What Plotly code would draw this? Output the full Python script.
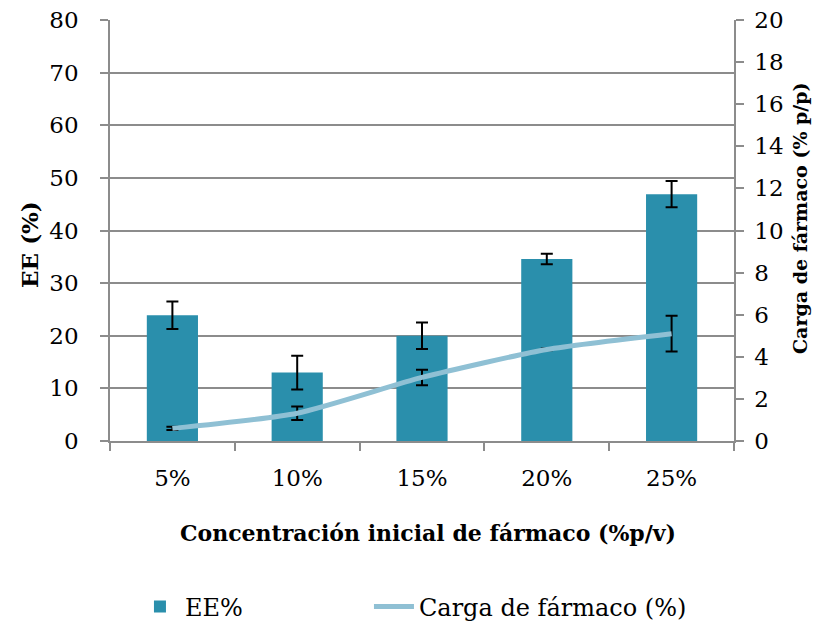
import plotly.graph_objects as go

# datos
concentracion = ['5%', '10%', '15%', '20%', '25%']
ee = [23.9, 13.0, 20.0, 34.6, 46.9]
ee_err = [2.6, 3.2, 2.5, 1.0, 2.5]
carga = [0.60, 1.32, 3.02, 4.35, 5.10]
carga_err = [0.08, 0.32, 0.37, 0.04, 0.85]

fuente = 'DejaVu Serif'
gris = '#8c8c8c'

fig = go.Figure()

fig.add_trace(go.Bar(
    x=concentracion, y=ee, name='EE%',
    marker=dict(color='#2a8fac', line=dict(width=0)),
    width=0.41,
    error_y=dict(type='data', array=ee_err, color='black', thickness=2, width=6),
    legend='legend', showlegend=True,
))

fig.add_trace(go.Scatter(
    x=concentracion, y=carga, name='Carga de fármaco (%)', yaxis='y2',
    mode='lines', line=dict(color='#8fc0d4', width=5, shape='spline', smoothing=0.6),
    error_y=dict(type='data', array=carga_err, color='black', thickness=2, width=6),
    legend='legend2', showlegend=True,
))

leyenda = dict(orientation='h', xanchor='left', yref='container', y=16/623, yanchor='middle',
               font=dict(family=fuente, size=24), itemwidth=40, bgcolor='rgba(0,0,0,0)')

eje = dict(automargin=False, showline=True, linecolor=gris, linewidth=1.5,
           ticks='outside', ticklen=8, tickcolor=gris, tickwidth=1.5,
           tickfont=dict(family=fuente, size=23), zeroline=False)

fig.update_layout(
    width=835, height=623,
    margin=dict(l=110, r=101, t=20, b=182),
    plot_bgcolor='white', paper_bgcolor='white',
    font=dict(family=fuente, size=22, color='black'),
    bargap=0.59,
    showlegend=True,
    xaxis=dict(eje, tickson='boundaries', ticklabelstandoff=16),
    yaxis=dict(eje, range=[0, 80], dtick=10, showgrid=True, gridcolor=gris, gridwidth=1.5,
               ticklabelstandoff=17),
    yaxis2=dict(eje, range=[0, 20], dtick=2, overlaying='y', side='right', showgrid=False,
                ticklabelstandoff=6),
    legend=dict(leyenda, x=0.04),
    legend2=dict(leyenda, x=0.415),
    annotations=[
        dict(text='<b>Concentración inicial de fármaco (%p/v)</b>', xref='paper', yref='paper',
             x=0.51, y=-0.2185, xanchor='center', yanchor='middle', showarrow=False,
             font=dict(family=fuente, size=22)),
        dict(text='<b>EE (%)</b>', xref='paper', yref='paper', textangle=-90,
             x=-0.128, y=0.466, xanchor='center', yanchor='middle', showarrow=False,
             font=dict(family=fuente, size=23)),
        dict(text='<b>Carga de fármaco (% p/p)</b>', xref='paper', yref='paper', textangle=-90,
             x=1.106, y=0.53, xanchor='center', yanchor='middle', showarrow=False,
             font=dict(family=fuente, size=19)),
    ],
)

fig.write_html("out.html", config={'displayModeBar': False},
               post_script="document.body.style.margin='0';")
